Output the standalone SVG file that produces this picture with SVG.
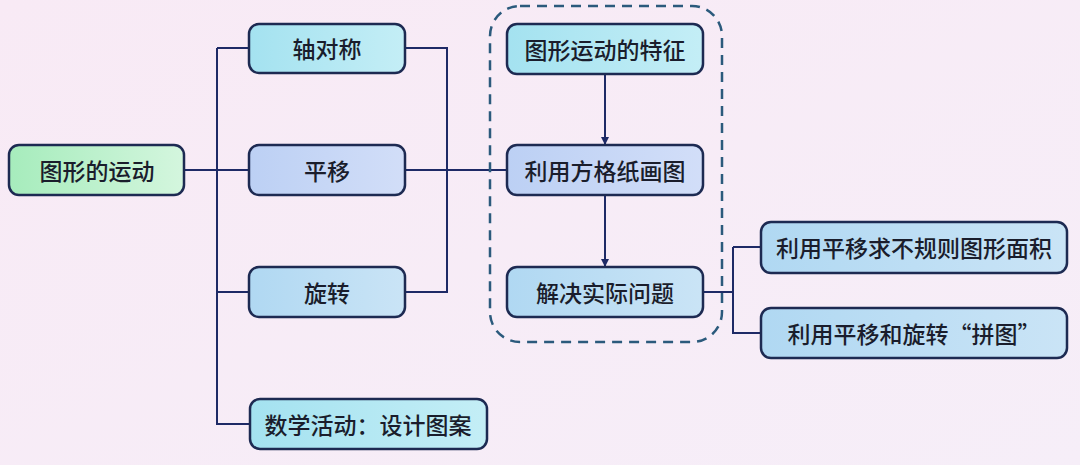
<svg xmlns="http://www.w3.org/2000/svg" width="1080" height="465" viewBox="0 0 1080 465">
<defs>
<linearGradient id="bg" x1="0" y1="0" x2="1" y2="1">
<stop offset="0" stop-color="#f8eaf5"/>
<stop offset="1" stop-color="#f6eef8"/>
</linearGradient>
<linearGradient id="gGreen" x1="0" y1="0" x2="1" y2="0">
<stop offset="0" stop-color="#a6ecbc"/>
<stop offset="1" stop-color="#d4f6de"/>
</linearGradient>
<linearGradient id="gCyan" x1="0" y1="0" x2="1" y2="0">
<stop offset="0" stop-color="#a4e2f0"/>
<stop offset="1" stop-color="#c4eef6"/>
</linearGradient>
<linearGradient id="gBlue" x1="0" y1="0" x2="1" y2="0">
<stop offset="0" stop-color="#bcd0f4"/>
<stop offset="1" stop-color="#d2def8"/>
</linearGradient>
<linearGradient id="gSky" x1="0" y1="0" x2="1" y2="0">
<stop offset="0" stop-color="#b0d8f2"/>
<stop offset="1" stop-color="#cae4f6"/>
</linearGradient>
<marker id="arr" markerWidth="8" markerHeight="8" refX="7" refY="4" orient="auto" markerUnits="userSpaceOnUse">
<path d="M0,0 L8,4 L0,8 z" fill="#1e2a66"/>
</marker>
</defs>
<style>
.box{stroke:#1d2a52;stroke-width:2.5}
.t{font-family:"Noto Sans CJK SC","Noto Sans",sans-serif;font-size:23px;font-weight:500;fill:#1a1d2c;text-anchor:middle;dominant-baseline:central}
.ln{fill:none;stroke:#1e2a66;stroke-width:2}
</style>
<rect width="1080" height="465" fill="url(#bg)"/>
<g id="connectors">
<path class="ln" d="M184,170 H250"/>
<path class="ln" d="M217,48 V424 H250"/>
<path class="ln" d="M217,48 H250"/>
<path class="ln" d="M217,292 H250"/>
<path class="ln" d="M405,48 H447 V292 H405"/>
<path class="ln" d="M405,170 H507"/>
<path class="ln" d="M605,74 V144" marker-end="url(#arr)"/>
<path class="ln" d="M605,195 V266" marker-end="url(#arr)"/>
<path class="ln" d="M703,292 H733"/>
<path class="ln" d="M733,247 V333 H761"/>
<path class="ln" d="M733,247 H761"/>
</g>
<g id="group-box">
<rect x="490" y="6" width="232" height="336" rx="30" fill="none" stroke="#2b5a7c" stroke-width="2.5" stroke-dasharray="10,7"/>
</g>
<g id="n-root"><rect class="box" x="9" y="145" width="175" height="50" rx="10" fill="url(#gGreen)"/><text class="t" x="97" y="170">图形的运动</text></g>
<g id="n-axis"><rect class="box" x="249" y="24" width="156" height="49" rx="10" fill="url(#gCyan)"/><text class="t" x="327" y="48">轴对称</text></g>
<g id="n-translate"><rect class="box" x="249" y="145" width="156" height="50" rx="10" fill="url(#gBlue)"/><text class="t" x="327" y="170">平移</text></g>
<g id="n-rotate"><rect class="box" x="249" y="267" width="156" height="50" rx="10" fill="url(#gSky)"/><text class="t" x="327" y="292">旋转</text></g>
<g id="n-activity"><rect class="box" x="250" y="399" width="237" height="50" rx="10" fill="url(#gCyan)"/><text class="t" x="368" y="424">数学活动：设计图案</text></g>
<g id="n-feature"><rect class="box" x="507" y="24" width="196" height="50" rx="10" fill="url(#gCyan)"/><text class="t" x="605" y="49">图形运动的特征</text></g>
<g id="n-grid"><rect class="box" x="507" y="145" width="196" height="50" rx="10" fill="url(#gBlue)"/><text class="t" x="605" y="170">利用方格纸画图</text></g>
<g id="n-solve"><rect class="box" x="507" y="267" width="196" height="50" rx="10" fill="url(#gSky)"/><text class="t" x="605" y="292">解决实际问题</text></g>
<g id="n-area"><rect class="box" x="761" y="222" width="306" height="51" rx="10" fill="url(#gSky)"/><text class="t" x="914" y="247">利用平移求不规则图形面积</text></g>
<g id="n-puzzle"><rect class="box" x="761" y="308" width="306" height="50" rx="10" fill="url(#gSky)"/><text class="t" x="914" y="333">利用平移和旋转“拼图”</text></g>
</svg>
